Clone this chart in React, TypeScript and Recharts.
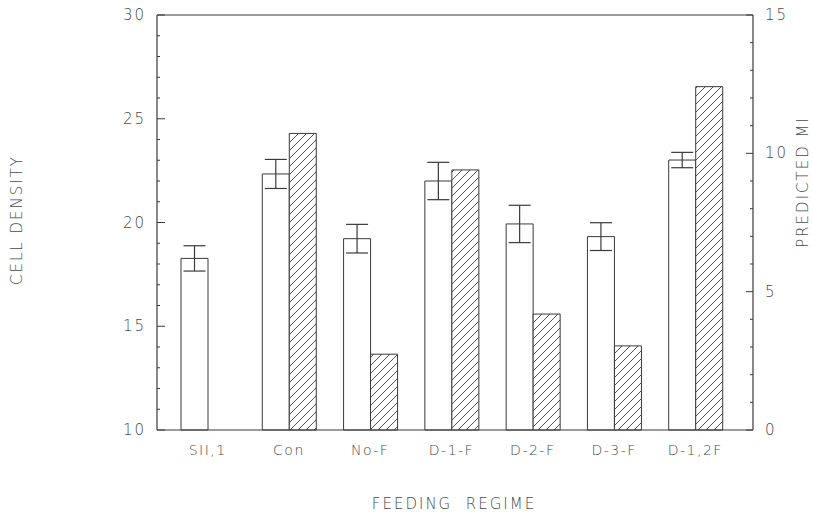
import React from "react";
import { ComposedChart, Bar, XAxis, YAxis, ErrorBar, ReferenceLine } from "recharts";

const regimes = ["SII,1", "Con", "No-F", "D-1-F", "D-2-F", "D-3-F", "D-1,2F"];
// cell density (left axis) with error
const cellDensity = [18.27, 22.34, 19.22, 22.0, 19.93, 19.32, 23.01];
const densityError = [0.61, 0.7, 0.69, 0.9, 0.9, 0.67, 0.37];
// predicted MI (right axis), hatched bars
const predictedMI = [null, 10.72, 2.74, 9.4, 4.19, 3.04, 12.41];

const densityTicks = [10, 11, 12, 13, 14, 15, 16, 17, 18, 19, 20, 21, 22, 23, 24, 25, 26, 27, 28, 29, 30];
const miTicks = [0, 1, 2, 3, 4, 5, 6, 7, 8, 9, 10, 11, 12, 13, 14, 15];

const data = regimes.map((regime, i) => ({
  regime,
  density: cellDensity[i],
  err: densityError[i],
  mi: predictedMI[i],
}));

const INK = "#3a3a3a";
const TEXT = "#4a4a4a";
const FONT = "'DejaVu Sans', sans-serif";

const LeftTick = ({ x, y, payload }: any) => {
  const v = payload.value;
  const major = v % 5 === 0;
  return (
    <g>
      <line x1={x} x2={x + (major ? 8 : 3)} y1={y} y2={y} stroke={INK} strokeWidth={1} />
      {major && (
        <text x={x - 11} y={y} dy={5} textAnchor="end" fill={TEXT} fontSize={15} fontFamily={FONT} fontWeight={200} letterSpacing={2}>
          {v}
        </text>
      )}
    </g>
  );
};

const RightTick = ({ x, y, payload }: any) => {
  const v = payload.value;
  const major = v % 5 === 0;
  return (
    <g>
      <line x1={x} x2={x - (major ? 7 : 3)} y1={y} y2={y} stroke={INK} strokeWidth={1} />
      {major && (
        <text x={x + 12} y={y} dy={5} textAnchor="start" fill={TEXT} fontSize={15} fontFamily={FONT} fontWeight={200} letterSpacing={2}>
          {v}
        </text>
      )}
    </g>
  );
};

const CategoryTick = ({ x, y, payload }: any) => (
  <text x={x} y={y} dy={17} textAnchor="middle" fill={TEXT} fontSize={14} fontFamily={FONT} fontWeight={200} letterSpacing={1.5}>
    {payload.value}
  </text>
);

export default function App() {
  return (
    <div style={{ position: "absolute", left: 0, top: 0, width: 813, height: 517, background: "#fff" }}>
      <svg width={0} height={0} style={{ position: "absolute" }}>
        <defs>
          <pattern id="hatch" patternUnits="userSpaceOnUse" width={8} height={8}>
            <rect width={8} height={8} fill="#fff" />
            <path d="M0,8 L8,0 M-2,2 L2,-2 M6,10 L10,6" stroke="#555" strokeWidth={1} />
          </pattern>
        </defs>
      </svg>
      <ComposedChart
        width={813}
        height={517}
        data={data}
        margin={{ top: 15, right: 30, left: 97, bottom: 57 }}
        barGap={0}
      >
        <XAxis
          dataKey="regime"
          height={30}
          padding={{ left: 10, right: 17 }}
          axisLine={{ stroke: INK, strokeWidth: 1.2 }}
          tickLine={false}
          tick={<CategoryTick />}
          interval={0}
        />
        <YAxis
          yAxisId="density"
          width={60}
          domain={[10, 30]}
          ticks={densityTicks}
          interval={0}
          tickSize={0}
          tickMargin={0}
          axisLine={{ stroke: INK, strokeWidth: 1.2 }}
          tickLine={false}
          tick={<LeftTick />}
        />
        <YAxis
          yAxisId="mi"
          orientation="right"
          width={30}
          domain={[0, 15]}
          ticks={miTicks}
          interval={0}
          tickSize={0}
          tickMargin={0}
          axisLine={{ stroke: INK, strokeWidth: 1.2 }}
          tickLine={false}
          tick={<RightTick />}
        />
        <ReferenceLine yAxisId="density" y={30} stroke={INK} strokeWidth={1.2} />
        <Bar
          yAxisId="density"
          dataKey="density"
          barSize={27}
          fill="#fff"
          stroke={INK}
          strokeWidth={1}
          isAnimationActive={false}
        >
          <ErrorBar dataKey="err" width={11} stroke={INK} strokeWidth={1.2} direction="y" />
        </Bar>
        <Bar
          yAxisId="mi"
          dataKey="mi"
          barSize={27}
          fill="url(#hatch)"
          stroke={INK}
          strokeWidth={1}
          isAnimationActive={false}
        />
      </ComposedChart>
      <svg width={813} height={517} style={{ position: "absolute", left: 0, top: 0, pointerEvents: "none" }}>
        <text
          transform="translate(22,220) rotate(-90)"
          textAnchor="middle"
          fill={TEXT}
          fontSize={15}
          fontFamily={FONT}
          fontWeight={200}
          letterSpacing={2}
        >
          CELL  DENSITY
        </text>
        <text
          transform="translate(808,182) rotate(-90)"
          textAnchor="middle"
          fill={TEXT}
          fontSize={15}
          fontFamily={FONT}
          fontWeight={200}
          letterSpacing={2}
        >
          PREDICTED  MI
        </text>
        <text
          x={454}
          y={509}
          textAnchor="middle"
          fill={TEXT}
          fontSize={15}
          fontFamily={FONT}
          fontWeight={200}
          letterSpacing={2}
          style={{ whiteSpace: "pre" }}
        >
          FEEDING  REGIME
        </text>
      </svg>
    </div>
  );
}
